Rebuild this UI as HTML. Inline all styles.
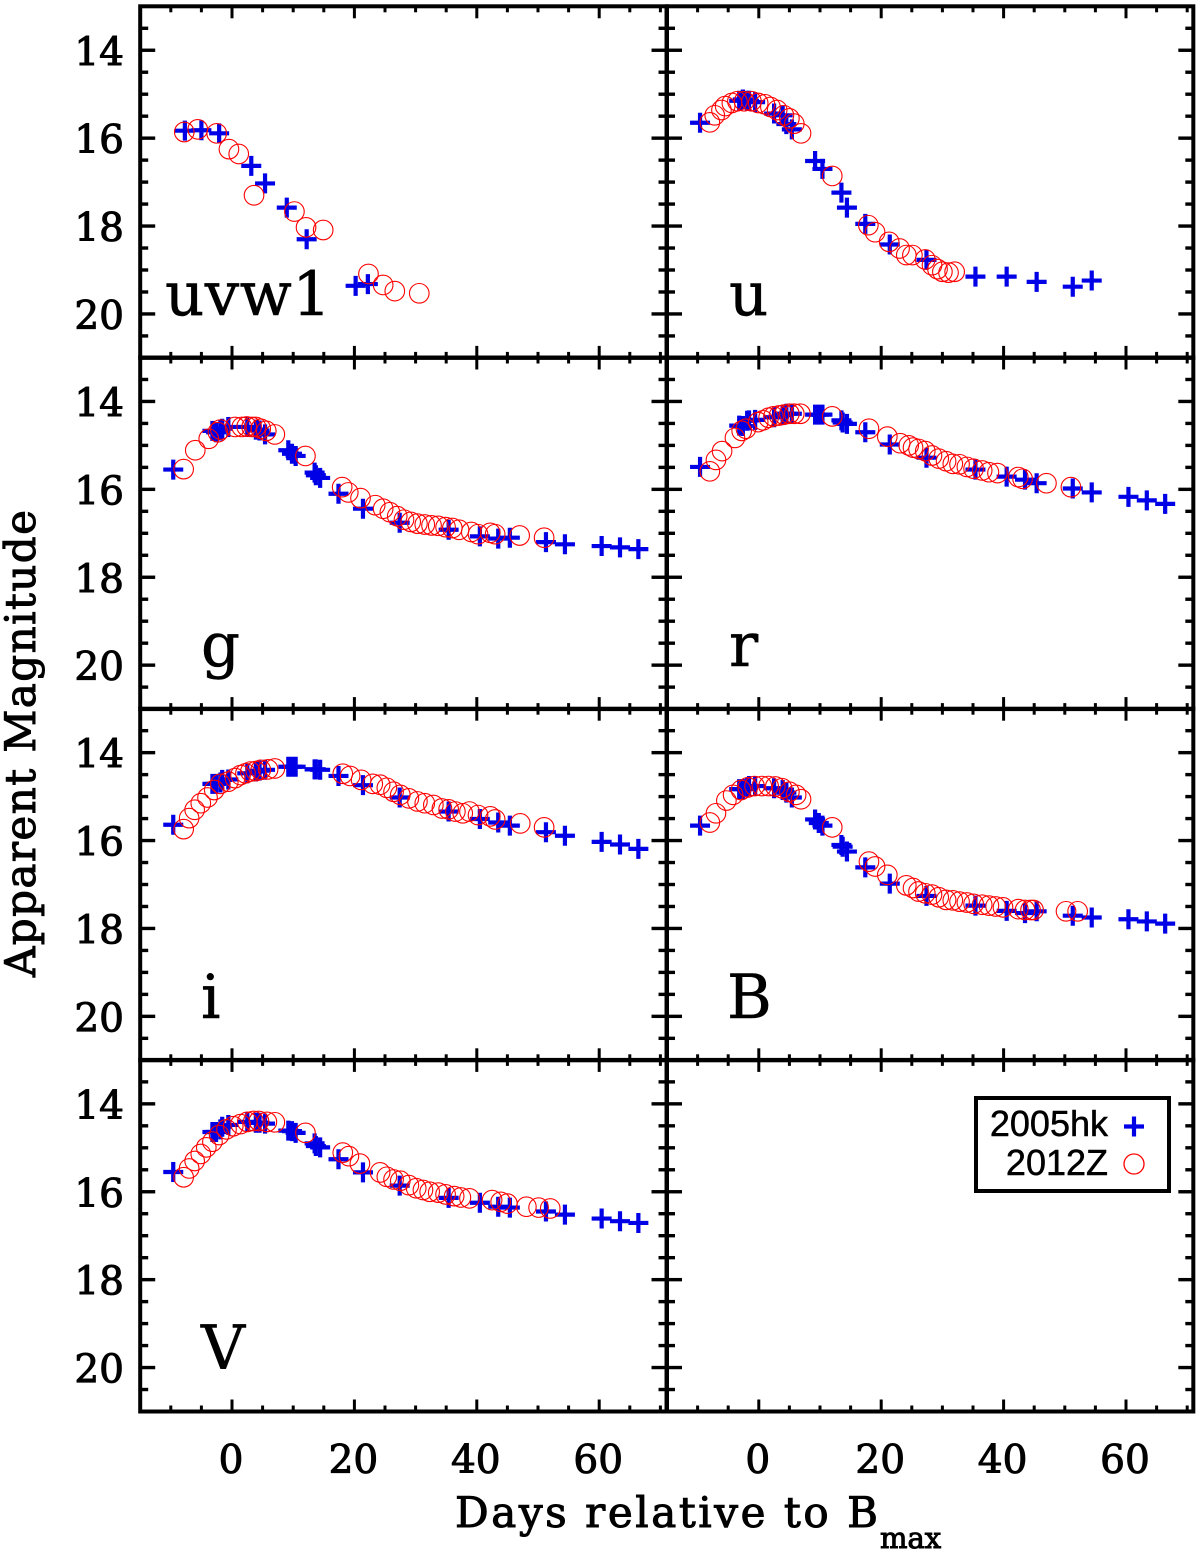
<!DOCTYPE html>
<html lang="en">
<head>
<meta charset="utf-8">
<title>Light curves of 2005hk and 2012Z</title>
<style>
html,body{margin:0;padding:0;background:#fff;}
svg{display:block;}
.hershey{font-family:"DejaVu Serif","Liberation Serif",serif;fill:#000;stroke:#000;stroke-width:1px;}
.band{stroke-width:.5px;}
.sans{font-family:"Liberation Sans",sans-serif;fill:#000;stroke:#000;stroke-width:.5px;font-size:36px;}
</style>
</head>
<body>
<svg id="chart" xmlns="http://www.w3.org/2000/svg" width="1200" height="1553" viewBox="0 0 1200 1553">
  <rect width="1200" height="1553" fill="#fff"/>
  <g id="plots"></g>

  <text class="hershey band" x="165" y="315" font-size="61" textLength="166" lengthAdjust="spacing">uvw1</text>
  <text class="hershey band" x="729" y="315" font-size="61">u</text>
  <text class="hershey band" x="201" y="666" font-size="61">g</text>
  <text class="hershey band" x="729" y="666" font-size="61">r</text>
  <text class="hershey band" x="201" y="1018" font-size="61">i</text>
  <text class="hershey band" x="727" y="1018" font-size="61">B</text>
  <text class="hershey band" x="201" y="1369" font-size="61">V</text>

  <text class="hershey" x="455" y="1527" font-size="42" textLength="423" lengthAdjust="spacing">Days relative to B</text>
  <text class="hershey" x="880" y="1548" font-size="29">max</text>
  <text class="hershey" transform="translate(35,977) rotate(-90)" font-size="42" textLength="467" lengthAdjust="spacing">Apparent Magnitude</text>

  <g>
    <rect x="976" y="1098" width="193" height="93" fill="#fff" stroke="#000" stroke-width="4"/>
    <text class="sans" x="1108" y="1136" text-anchor="end">2005hk</text>
    <text class="sans" x="1108" y="1175" text-anchor="end">2012Z</text>
    <path d="M1124 1126.5H1144M1134 1116.5V1136.5" stroke="#0000e6" stroke-width="4.2" fill="none"/>
    <circle cx="1134" cy="1164" r="10" fill="none" stroke="#f00" stroke-width="1.3"/>
  </g>
</svg>
<script>
// ---- chart data ----
const xTickValues = [0, 20, 40, 60];
const yTickValues = [14, 16, 18, 20];

const sharedBlueDays = [-9.6,-3.2,-2.6,-1.9,-1.6,-0.6,2.5,3.9,4.5,5.4,9.2,9.8,10.4,13.5,13.7,14.4,17.4,21.4,27.4,35.4,40.5,43.5,45.4,51.3,54.4,60.4,63.4,66.4];

const uvw1BlueDays = [-7.7,-5,-2.1,3.15,5.4,8.95,12.2,20.2,22.2];
const uvw1BlueMags = [15.83,15.82,15.89,16.63,17.03,17.58,18.30,19.36,19.32];
const uvw1RedDays = [-7.8,-5.6,-2.5,-0.5,1.1,3.6,10.2,12.1,14.9,22.3,24.7,26.6,30.6];
const uvw1RedMags = [15.86,15.80,15.89,16.25,16.36,17.30,17.67,18.03,18.09,19.09,19.34,19.48,19.53];

const uBlueDays = [-9.6,-3.2,-2.6,-1.9,-1.6,-0.6,2.5,3.9,4.5,5.4,9.2,10.4,13.5,14.4,17.4,21.4,27.4,35.4,40.5,45.4,51.3,54.4];
const uBlueMags = [15.65,15.15,15.12,15.15,15.15,15.18,15.44,15.48,15.68,15.80,16.52,16.70,17.24,17.58,17.95,18.42,18.77,19.15,19.15,19.27,19.38,19.24];
const uRedDays = [-8,-7.2,-6.1,-5.5,-4.4,-3.5,-2.4,-1.2,-0.1,1,1.9,3,4.1,5,5.8,6.9,12,17.9,19,21.3,23,24.1,25.1,27.2,28.3,29.2,30,31,32];
const uRedMags = [15.64,15.48,15.36,15.27,15.20,15.16,15.16,15.16,15.20,15.23,15.29,15.36,15.48,15.55,15.67,15.89,16.86,17.98,18.14,18.36,18.51,18.66,18.66,18.76,18.89,18.98,19.04,19.06,19.04];

const gBlueMags = [15.55,14.67,14.70,14.66,14.62,14.58,14.58,14.64,14.66,14.75,15.11,15.19,15.24,15.62,15.68,15.74,16.10,16.44,16.76,16.92,17.07,17.12,17.10,17.20,17.25,17.29,17.32,17.36];
const gRedDays = [-7.9,-6,-3.8,-2.3,-1.9,0.5,1.6,2.4,3.2,3.9,4.7,5.6,7,12,18,19,21,23.4,24.7,25.8,27,28.1,29.2,30.3,31.5,32.6,33.7,34.9,36,37.1,39.1,40.2,42.2,43,47,51];
const gRedMags = [15.54,15.11,14.85,14.70,14.64,14.58,14.58,14.57,14.58,14.58,14.62,14.67,14.75,15.24,15.95,16.07,16.20,16.36,16.44,16.52,16.61,16.69,16.74,16.78,16.80,16.82,16.83,16.86,16.88,16.92,16.97,17.02,16.99,17.02,17.05,17.10];

const rBlueMags = [15.49,14.55,14.56,14.44,14.43,14.42,14.36,14.31,14.28,14.28,14.30,14.30,14.30,14.43,14.48,14.51,14.70,14.98,15.28,15.55,15.71,15.78,15.86,15.98,16.07,16.17,16.25,16.33];
const rRedDays = [-8,-7,-6,-3.9,-2.8,-2.1,-0.1,0.7,1.6,2.4,3.3,4.1,5,5.8,6.8,12,18,21,23.1,24.5,25.2,26.1,27.2,28.3,29.4,30.6,31.7,32.8,34,35.1,36.5,37.6,39,42.4,43.1,47,51];
const rRedMags = [15.59,15.33,15.13,14.83,14.67,14.62,14.47,14.43,14.37,14.34,14.32,14.30,14.28,14.28,14.28,14.34,14.62,14.80,14.95,15.0,15.05,15.08,15.13,15.23,15.30,15.36,15.42,15.43,15.49,15.53,15.57,15.61,15.63,15.72,15.76,15.86,15.95];

const iBlueMags = [15.64,14.71,14.71,14.68,14.62,14.61,14.47,14.43,14.41,14.39,14.32,14.32,14.32,14.38,14.38,14.39,14.53,14.74,15.02,15.34,15.51,15.59,15.66,15.81,15.89,16.03,16.09,16.19];
const iRedDays = [-7.9,-7,-6.1,-5.1,-4,-2.9,-1.9,-0.6,0.5,1.4,2.2,3,3.9,4.7,5.9,7,18.1,19.3,21.1,23,24.2,25.3,26.4,27.5,28.9,30.3,31.5,32.9,34.3,35.4,36.5,37.7,38.8,40.2,42.2,43,47.1,51];
const iRedMags = [15.74,15.49,15.30,15.15,15.02,14.85,14.71,14.66,14.58,14.51,14.47,14.43,14.42,14.39,14.38,14.36,14.48,14.53,14.62,14.71,14.73,14.80,14.89,14.96,15.04,15.11,15.15,15.19,15.27,15.29,15.34,15.38,15.34,15.42,15.45,15.52,15.61,15.70];

const bBlueMags = [15.66,14.83,14.83,14.79,14.76,14.76,14.81,14.85,14.91,15.02,15.52,15.60,15.66,16.10,16.14,16.25,16.61,16.98,17.26,17.48,17.60,17.65,17.61,17.71,17.75,17.79,17.84,17.89];
const bRedDays = [-8,-7,-5.3,-4.2,-2.9,-1.8,-0.7,0.5,1.6,2.7,3.8,5,6.1,6.9,12,18,19,21,24.1,25.2,26.1,27.2,28.3,29.4,30.6,31.7,32.8,34,35.1,36.5,37.6,38.7,39.9,42.4,43.5,44.4,44.9,50.2,52.1];
const bRedMags = [15.59,15.38,15.09,14.96,14.85,14.79,14.76,14.76,14.76,14.77,14.81,14.89,14.96,15.06,15.70,16.48,16.59,16.78,17.02,17.08,17.16,17.20,17.23,17.29,17.35,17.36,17.39,17.41,17.44,17.46,17.48,17.50,17.52,17.56,17.58,17.58,17.58,17.61,17.61];

const vBlueMags = [15.55,14.64,14.64,14.58,14.52,14.48,14.41,14.43,14.43,14.45,14.61,14.62,14.66,14.90,14.96,14.99,15.26,15.56,15.86,16.14,16.25,16.34,16.36,16.45,16.52,16.61,16.67,16.71];
const vRedDays = [-7.9,-7,-6.1,-5.1,-4.2,-3.2,-2.1,-0.9,0.2,1.4,2.5,3.5,4.4,5.7,7,12,18.1,19.1,20.9,24.2,25.3,26.4,27.5,28.9,30.1,31.2,32.3,33.7,34.9,36.3,37.4,38.8,42.5,43.9,45,48.1,50.1,52];
const vRedMags = [15.67,15.47,15.30,15.14,14.99,14.86,14.71,14.58,14.51,14.46,14.41,14.39,14.39,14.41,14.42,14.66,15.11,15.19,15.36,15.56,15.66,15.72,15.75,15.85,15.92,15.96,16.0,16.02,16.06,16.10,16.13,16.15,16.19,16.23,16.27,16.34,16.36,16.38];

// ---- layout & axis functions ----
const NS = 'http://www.w3.org/2000/svg';
const plots = document.getElementById('plots');
const DAY_MIN = -15, DAY_MAX = 71, MAG_MIN = 13, MAG_MAX = 21;
const PX_PER_DAY = 6.12, PX_PER_MAG = 43.95;
const ROW_HEIGHT = 351.2, FIRST_TOP = 6.3;
const COL_ZERO = [232, 758.8];

function xScale(col, day) { return COL_ZERO[col] + (day - 0) * PX_PER_DAY; }
function yScale(row, mag) { return FIRST_TOP + row * ROW_HEIGHT + (mag - MAG_MIN) * PX_PER_MAG; }

function line(parent, x1, y1, x2, y2, w, color) {
  const l = document.createElementNS(NS, 'line');
  l.setAttribute('x1', x1); l.setAttribute('y1', y1);
  l.setAttribute('x2', x2); l.setAttribute('y2', y2);
  l.setAttribute('stroke', color || '#000');
  l.setAttribute('stroke-width', w);
  parent.appendChild(l);
  return l;
}

function drawAxes(g, col, row) {
  const left = xScale(col, DAY_MIN), right = xScale(col, DAY_MAX);
  const top = yScale(row, MAG_MIN), bottom = yScale(row, MAG_MAX);

  const frame = document.createElementNS(NS, 'rect');
  
  
  frame.setAttribute('x', left); frame.setAttribute('y', top);
  frame.setAttribute('width', right - left); frame.setAttribute('height', bottom - top);
  frame.setAttribute('fill', 'none');
  frame.setAttribute('stroke', '#000');
  frame.setAttribute('stroke-width', 4);
  g.appendChild(frame);

  for (let d = DAY_MIN + 5; d < DAY_MAX; d += 5) {
    const major = d % 20 === 0;
    const len = major ? 12 : 6;
    const x = xScale(col, d);
    const t1 = line(g, x, bottom, x, bottom - len, 3);
    
    
    const t2 = line(g, x, top, x, top + len, 3);
    
    
  }
  for (let m = MAG_MIN + 0.5; m < MAG_MAX; m += 0.5) {
    const major = m % 2 === 0;
    const len = major ? 15 : 8;
    const y = yScale(row, m);
    const t1 = line(g, left, y, left + len, y, 3.4);
    
    
    const t2 = line(g, right, y, right - len, y, 3.4);
    
    
  }
  if (col === 0) {
    yTickValues.forEach(function (v) {
      const t = document.createElementNS(NS, 'text');
      
      
      t.setAttribute('class', 'hershey');
      t.setAttribute('x', 124);
      t.setAttribute('y', yScale(row, v) + 15);
      t.setAttribute('font-size', 39);
      t.setAttribute('text-anchor', 'end');
      t.textContent = v;
      g.appendChild(t);
    });
  }
  if (row === 3) {
    xTickValues.forEach(function (v) {
      const t = document.createElementNS(NS, 'text');
      
      
      t.setAttribute('class', 'hershey');
      t.setAttribute('x', xScale(col, v) - 1);
      t.setAttribute('y', 1473);
      t.setAttribute('font-size', 39);
      t.setAttribute('text-anchor', 'middle');
      t.textContent = v;
      g.appendChild(t);
    });
  }
}

function drawPlus(g, col, row, days, mags) {
  days.forEach(function (d, i) {
    const x = xScale(col, d), y = yScale(row, mags[i]);
    const p = document.createElementNS(NS, 'path');
    
    
    p.setAttribute('d', 'M' + (x - 10) + ' ' + y + 'H' + (x + 10) + 'M' + x + ' ' + (y - 10) + 'V' + (y + 10));
    p.setAttribute('stroke', '#0000e6');
    p.setAttribute('stroke-width', 4.2);
    p.setAttribute('fill', 'none');
    g.appendChild(p);
  });
}

function drawCircles(g, col, row, days, mags) {
  days.forEach(function (d, i) {
    const c = document.createElementNS(NS, 'circle');
    
    
    c.setAttribute('cx', xScale(col, d));
    c.setAttribute('cy', yScale(row, mags[i]));
    c.setAttribute('r', 9.8);
    c.setAttribute('fill', 'none');
    c.setAttribute('stroke', '#f00');
    c.setAttribute('stroke-width', 1.1);
    g.appendChild(c);
  });
}

function panel(name, col, row, blueDays, blueMags, redDays, redMags) {
  const g = document.createElementNS(NS, 'g');
  
  
  plots.appendChild(g);
  drawAxes(g, col, row);
  if (blueDays) drawPlus(g, col, row, blueDays, blueMags);
  if (redDays) drawCircles(g, col, row, redDays, redMags);
}

panel('panel-uvw1', 0, 0, uvw1BlueDays, uvw1BlueMags, uvw1RedDays, uvw1RedMags);
panel('panel-u', 1, 0, uBlueDays, uBlueMags, uRedDays, uRedMags);
panel('panel-g', 0, 1, sharedBlueDays, gBlueMags, gRedDays, gRedMags);
panel('panel-r', 1, 1, sharedBlueDays, rBlueMags, rRedDays, rRedMags);
panel('panel-i', 0, 2, sharedBlueDays, iBlueMags, iRedDays, iRedMags);
panel('panel-b', 1, 2, sharedBlueDays, bBlueMags, bRedDays, bRedMags);
panel('panel-v', 0, 3, sharedBlueDays, vBlueMags, vRedDays, vRedMags);
panel('panel-legend', 1, 3, null, null, null, null);
</script>
</body>
</html>
